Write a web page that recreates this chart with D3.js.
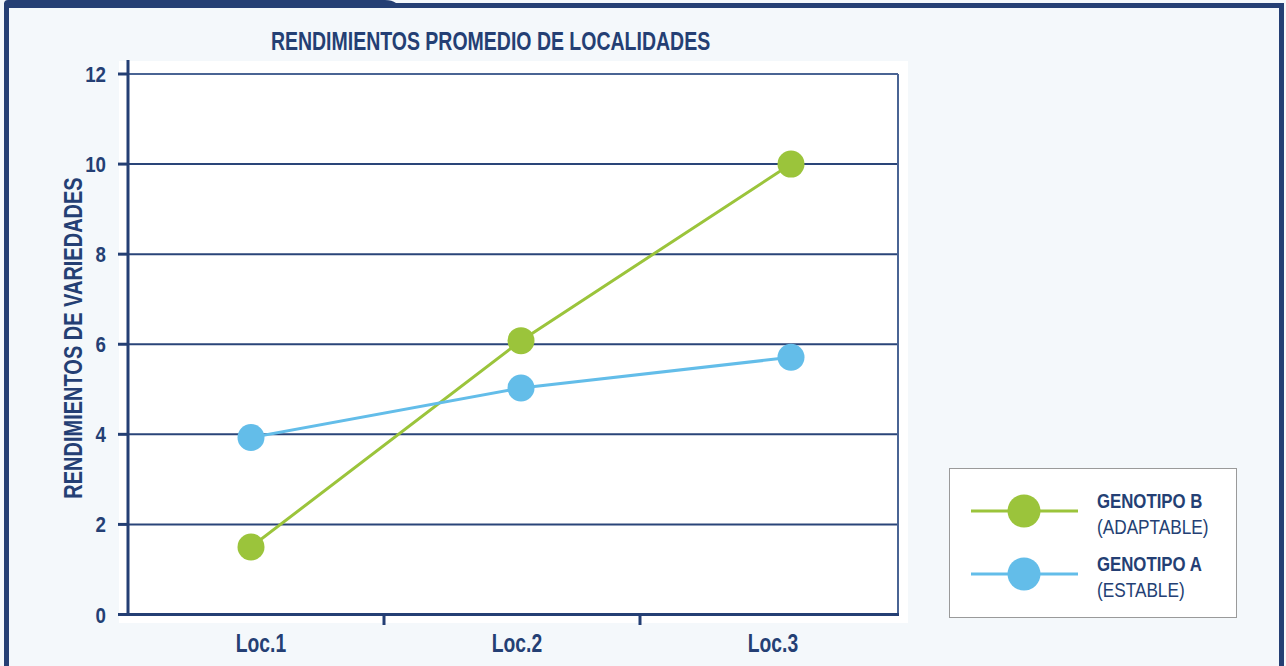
<!DOCTYPE html>
<html>
<head>
<meta charset="utf-8">
<script src="https://cdn.jsdelivr.net/npm/d3@7"></script>
<style>
  body { margin: 0; background: #f4f8fb; }
  text { font-family: "Liberation Sans", Arial, sans-serif; fill: #243f74; }
</style>
</head>
<body>
<div id="chart"></div>
<script>
// data
var categories = ["Loc.1", "Loc.2", "Loc.3"];
var genotipoB = [1.5, 6.08, 10.0];   // adaptable
var genotipoA = [3.93, 5.03, 5.71];  // estable
var yTicks = [0, 2, 4, 6, 8, 10, 12];
var seriesNames = ["GENOTIPO B", "GENOTIPO A"];
var seriesSubs = ["(ADAPTABLE)", "(ESTABLE)"];

var navy = "#243f74";
var green = "#9bc43b";
var blue = "#63bde9";

var W = 1286, H = 666;

// no narrow font installed: squeeze the glyphs horizontally
function place(x, y, sx, rot) {
  return "translate(" + x + "," + y + ")" + (rot ? " rotate(" + rot + ")" : "") + " scale(" + sx + ",1)";
}

var svg = d3.select("#chart").append("svg")
    .attr("width", W)
    .attr("height", H);

// page background + frame
svg.append("rect").attr("width", W).attr("height", H).attr("fill", "#f4f8fb");
svg.append("path")
    .attr("d", "M4,8 L4,4 Q4,0 8,0 L385,0 Q392,0 396,3 L1284,3 L1284,8 Z")
    .attr("fill", navy);
svg.append("rect").attr("x", 4).attr("y", 3).attr("width", 5).attr("height", H).attr("fill", navy);
svg.append("rect").attr("x", 1279).attr("y", 3).attr("width", 5).attr("height", H).attr("fill", navy);

// white panel behind the plot
svg.append("rect")
    .attr("x", 119).attr("y", 61)
    .attr("width", 789).attr("height", 562)
    .attr("fill", "#fff");

var margin = { left: 128, right: 898, top: 74, bottom: 614.5 };

var y = d3.scaleLinear().domain([0, 12]).range([margin.bottom, margin.top]);
var xBand = d3.scaleBand().domain(categories).range([margin.left, 896]);
var x = d3.scalePoint().domain(categories).range([251, 791]);

// gridlines
svg.append("g")
  .selectAll("line")
  .data(yTicks.filter(function(d) { return d > 0; }))
  .join("line")
    .attr("x1", margin.left)
    .attr("x2", margin.right)
    .attr("y1", function(d) { return y(d); })
    .attr("y2", function(d) { return y(d); })
    .style("stroke", function(d) { return d == 12 ? "#4a6494" : "#2a4579"; })
    .style("stroke-width", "2px");

// right border of plot
svg.append("line")
    .attr("x1", margin.right).attr("x2", margin.right)
    .attr("y1", y(12)).attr("y2", margin.bottom)
    .style("stroke", "#4a6494").style("stroke-width", "2px");

// y axis
svg.append("line")
    .attr("x1", margin.left).attr("x2", margin.left)
    .attr("y1", 60).attr("y2", margin.bottom + 1.5)
    .style("stroke", navy).style("stroke-width", "3px");
svg.append("g")
  .selectAll("line")
  .data(yTicks)
  .join("line")
    .attr("x1", 118).attr("x2", margin.left)
    .attr("y1", function(d) { return y(d); })
    .attr("y2", function(d) { return y(d); })
    .style("stroke", navy).style("stroke-width", "3px");
svg.append("g")
  .selectAll("text")
  .data(yTicks)
  .join("text")
    .attr("transform", function(d) { return place(106, y(d) + 8, 0.85); })
    .attr("text-anchor", "end")
    .style("font-size", "22px")
    .style("font-weight", "bold")
    .text(function(d) { return d; });

// x axis
svg.append("line")
    .attr("x1", 118).attr("x2", margin.right + 1)
    .attr("y1", margin.bottom).attr("y2", margin.bottom)
    .style("stroke", navy).style("stroke-width", "3px");
svg.append("g")
  .selectAll("line")
  .data(categories.slice(1))
  .join("line")
    .attr("x1", function(d) { return xBand(d); })
    .attr("x2", function(d) { return xBand(d); })
    .attr("y1", margin.bottom).attr("y2", 625)
    .style("stroke", navy).style("stroke-width", "3px");
svg.append("g")
  .selectAll("text")
  .data(categories)
  .join("text")
    .attr("transform", function(d) { return place(xBand(d) + xBand.bandwidth() / 2 + 5, 652, 0.77); })
    .attr("text-anchor", "middle")
    .style("font-size", "25px")
    .style("font-weight", "bold")
    .text(function(d) { return d; });

// titles
svg.append("text")
    .attr("transform", place(490.5, 50, 0.78))
    .attr("text-anchor", "middle")
    .style("font-size", "25px")
    .style("font-weight", "bold")
    .text("RENDIMIENTOS PROMEDIO DE LOCALIDADES");
svg.append("text")
    .attr("transform", place(82, 338, 0.8, -90))
    .attr("text-anchor", "middle")
    .style("font-size", "25px")
    .style("font-weight", "bold")
    .text("RENDIMIENTOS DE VARIEDADES");

// lines + points
var line = d3.line()
    .x(function(d, i) { return x(categories[i]); })
    .y(function(d) { return y(d); });

[[genotipoB, green], [genotipoA, blue]].forEach(function(s) {
  svg.append("path")
      .datum(s[0])
      .attr("fill", "none")
      .style("stroke", s[1])
      .style("stroke-width", "3px")
      .attr("d", line);
  svg.append("g")
    .selectAll("circle")
    .data(s[0])
    .join("circle")
      .attr("cx", function(d, i) { return x(categories[i]); })
      .attr("cy", function(d) { return y(d); })
      .attr("r", 13.5)
      .attr("fill", s[1]);
});

// Handmade legend
svg.append("rect")
    .attr("x", 949.5).attr("y", 468.5)
    .attr("width", 287).attr("height", 149)
    .attr("fill", "#fff")
    .style("stroke", "#9a9a9a").style("stroke-width", "1px");
var legend_pos_y = [511, 574];
var colors = [green, blue];
seriesNames.forEach(function(name, i) {
  var ly = legend_pos_y[i];
  svg.append("line").attr("x1", 971).attr("x2", 1078).attr("y1", ly).attr("y2", ly)
      .style("stroke", colors[i]).style("stroke-width", "3px");
  svg.append("circle").attr("cx", 1024).attr("cy", ly).attr("r", 16.5).attr("fill", colors[i]);
  svg.append("text").attr("transform", place(1097, ly - 3, 0.8))
      .style("font-size", "21px").style("font-weight", "bold").text(name);
  svg.append("text").attr("transform", place(1097, ly + 23, 0.82))
      .style("font-size", "21px").text(seriesSubs[i]);
});
</script>
</body>
</html>
